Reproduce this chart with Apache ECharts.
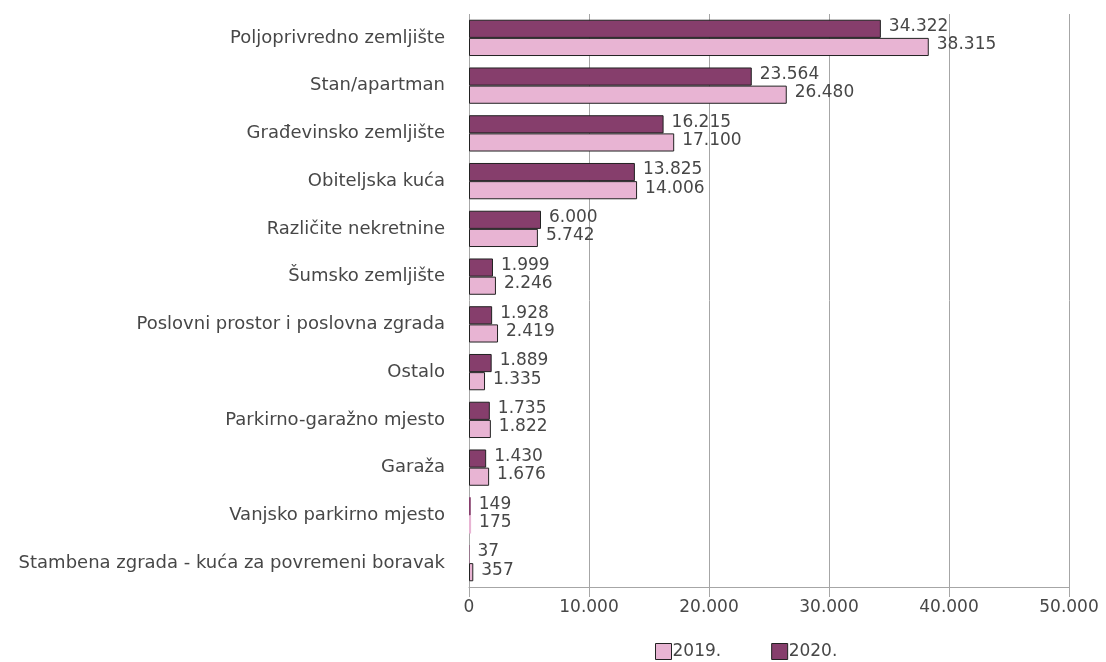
<!DOCTYPE html>
<html>
<head>
<meta charset="utf-8">
<script src="https://cdn.jsdelivr.net/npm/echarts@6/dist/echarts.min.js"></script>
<style>
  html, body { margin: 0; padding: 0; background: #fff; }
  #chart { width: 1106px; height: 662px; }
</style>
</head>
<body>
<div id="chart"></div>
<script>
// kategorije (odozgo prema dolje)
var categories = [
  'Poljoprivredno zemljište',
  'Stan/apartman',
  'Građevinsko zemljište',
  'Obiteljska kuća',
  'Različite nekretnine',
  'Šumsko zemljište',
  'Poslovni prostor i poslovna zgrada',
  'Ostalo',
  'Parkirno-garažno mjesto',
  'Garaža',
  'Vanjsko parkirno mjesto',
  'Stambena zgrada - kuća za povremeni boravak'
];
var values2020 = [34322, 23564, 16215, 13825, 6000, 1999, 1928, 1889, 1735, 1430, 149, 37];
var values2019 = [38315, 26480, 17100, 14006, 5742, 2246, 2419, 1335, 1822, 1676, 175, 357];
var xTicks = [0, 10000, 20000, 30000, 40000, 50000];

var fontFam = '"DejaVu Sans", sans-serif';
var txtColor = '#474747';
var fontW = 'normal';
var fSize = 17;

// 1234 -> 1.234
function fmt(v) {
  return String(v).replace(/\B(?=(\d{3})+(?!\d))/g, '.');
}

// jako mali stupci se u originalu ne vide (bez obruba)
function toData(arr) {
  return arr.map(function (v) {
    return v < 300 ? { value: v, itemStyle: { borderWidth: 0 } } : v;
  });
}

var labelCfg = {
  show: true,
  position: 'right',
  distance: 8,
  offset: [0, -2],
  color: txtColor,
  fontFamily: fontFam,
  fontWeight: fontW,
  fontSize: fSize,
  formatter: function (p) { return fmt(p.value); }
};

var myChart = echarts.init(document.getElementById('chart'));
var option = {
  animation: false,
  textStyle: { fontFamily: fontFam },
  grid: { left: 469, right: 37, top: 14, bottom: 75, containLabel: false },
  legend: {
    data: ['2019.', '2020.'],
    top: 638,
    left: 650,
    icon: 'rect',
    itemWidth: 16,
    itemHeight: 16,
    itemGap: 50,
    itemStyle: { borderWidth: 1 },
    textStyle: { color: txtColor, fontSize: fSize, fontFamily: fontFam, fontWeight: fontW, padding: [0, 0, 0, -4] }
  },
  xAxis: {
    type: 'value',
    min: xTicks[0],
    max: xTicks[xTicks.length - 1],
    interval: 10000,
    axisLine: { show: true, lineStyle: { color: '#a6a6a6' } },
    axisTick: { show: true, length: 10, lineStyle: { color: '#a6a6a6' } },
    splitLine: { show: true, lineStyle: { color: '#a6a6a6' } },
    axisLabel: {
      color: txtColor, fontSize: fSize, fontFamily: fontFam, fontWeight: fontW, margin: 12,
      formatter: function (v) { return fmt(v); }
    }
  },
  yAxis: {
    type: 'category',
    inverse: true,
    data: categories,
    axisLine: { show: false },
    axisTick: { show: false },
    axisLabel: { color: txtColor, fontSize: 18, fontFamily: fontFam, fontWeight: fontW, margin: 24 }
  },
  series: [
    {
      name: '2020.',
      type: 'bar',
      data: toData(values2020),
      barGap: '0%',
      barCategoryGap: '24%',
      itemStyle: { color: '#863e6c', borderColor: '#222', borderWidth: 1 },
      label: labelCfg
    },
    {
      name: '2019.',
      type: 'bar',
      data: toData(values2019),
      itemStyle: { color: '#e8b4d3', borderColor: '#222', borderWidth: 1 },
      label: labelCfg
    }
  ]
};
myChart.setOption(option);
</script>
</body>
</html>
